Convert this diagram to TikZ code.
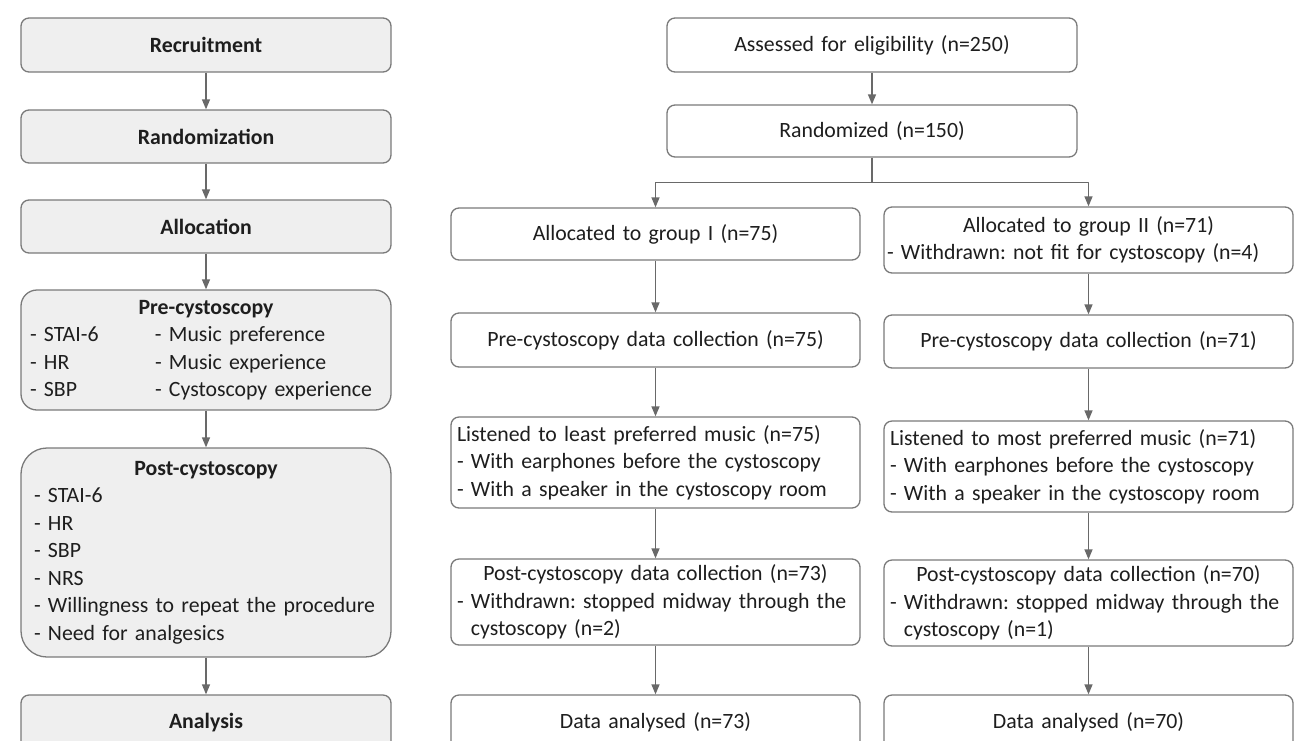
\documentclass[tikz,border=0pt]{standalone}
\usepackage{fontspec}
\setmainfont{Carlito}
\usetikzlibrary{arrows.meta}
\definecolor{boxline}{HTML}{7A7A7A}
\definecolor{arrowline}{HTML}{696969}
\definecolor{stagefill}{HTML}{EFEFEF}
\definecolor{ink}{HTML}{1E1E1E}
\frenchspacing
\begin{document}
\begin{tikzpicture}[x=1pt, y=-1pt, font=\fontsize{21.8}{27.5}\selectfont, line join=round,
		>={Triangle[length=10pt,width=8pt]},
		box/.style={draw=boxline, line width=1.3pt, rounded corners=8pt, text=ink, inner ysep=0pt},
		stage/.style={box, fill=stagefill, inner xsep=9pt, text width=352pt, align=center},
		flow/.style={box, fill=white, inner xsep=6pt, text width=397pt, align=center},
		link/.style={draw=arrowline, line width=1.3pt}]
		\def\lx{206}\def\mx{655.5}\def\rx{1088.5}\def\cx{872}
		\useasboundingbox (0,0) rectangle (1298,740);
		\clip (0,0) rectangle (1298,740);
		% stages of the study
		\node[stage, minimum height=54pt] (rec) at (\lx,45) {\textbf{Recruitment}};
		\node[stage, minimum height=53pt] (rnd) at (\lx,136.5) {\textbf{Randomization}};
		\node[stage, minimum height=53pt] (alc) at (\lx,226.5) {\textbf{Allocation}};
		\node[stage, minimum height=120pt, rounded corners=16pt, align=left] (pre) at (\lx,350)
			{\makebox[\linewidth]{\textbf{Pre-cystoscopy}}\\
			\makebox[125pt][l]{- STAI-6}- Music preference\\
			\makebox[125pt][l]{- HR}- Music experience\\
			\makebox[125pt][l]{- SBP}- Cystoscopy experience};
		\node[stage, minimum height=209pt, rounded corners=26pt, align=left] (post) at (\lx,552.5)
			{\makebox[\linewidth]{\textbf{Post-cystoscopy}}\\
			\hspace*{4pt}- STAI-6\\ \hspace*{4pt}- HR\\ \hspace*{4pt}- SBP\\ \hspace*{4pt}- NRS\\
			\hspace*{4pt}- Willingness to repeat the procedure\\ \hspace*{4pt}- Need for analgesics};
		\node[stage, minimum height=55pt] (ana) at (\lx,722.5) {\textbf{Analysis}};
		% enrolment
		\node[flow, minimum height=54pt, minimum width=410pt] (elig) at (\cx,45) {Assessed for eligibility (n=250)};
		\node[flow, minimum height=52pt, minimum width=410pt] (rand) at (\cx,131) {Randomized (n=150)};
		% group I
		\node[flow, minimum height=52pt] (al1) at (\mx,234) {Allocated to group I (n=75)};
		\node[flow, minimum height=54pt] (pre1) at (\mx,340) {Pre-cystoscopy data collection (n=75)};
		\node[flow, minimum height=91pt, align=left] (lis1) at (\mx,462.5)
			{Listened to least preferred music (n=75)\\
			- With earphones before the cystoscopy\\
			- With a speaker in the cystoscopy room};
		\node[flow, minimum height=86pt, align=left] (post1) at (\mx,602)
			{\makebox[\linewidth]{Post-cystoscopy data collection (n=73)}\\
			- Withdrawn: stopped midway through the\\
			\phantom{-~}cystoscopy (n=2)};
		\node[flow, minimum height=55pt] (dat1) at (\mx,722.5) {Data analysed (n=73)};
		% group II
		\node[flow, minimum height=66pt, align=left, inner xsep=3pt, text width=403pt] (al2) at (\rx,240)
			{\makebox[\linewidth]{Allocated to group II (n=71)}\\
			- Withdrawn: not fit for cystoscopy (n=4)};
		\node[flow, minimum height=53pt] (pre2) at (\rx,341.5) {Pre-cystoscopy data collection (n=71)};
		\node[flow, minimum height=91pt, align=left] (lis2) at (\rx,466.5)
			{Listened to most preferred music (n=71)\\
			- With earphones before the cystoscopy\\
			- With a speaker in the cystoscopy room};
		\node[flow, minimum height=86pt, align=left] (post2) at (\rx,603)
			{\makebox[\linewidth]{Post-cystoscopy data collection (n=70)}\\
			- Withdrawn: stopped midway through the\\
			\phantom{-~}cystoscopy (n=1)};
		\node[flow, minimum height=55pt] (dat2) at (\rx,722.5) {Data analysed (n=70)};
		% connectors
		\foreach \a/\b in {rec/rnd,rnd/alc,alc/pre,pre/post,post/ana,elig/rand,
			al1/pre1,pre1/lis1,lis1/post1,post1/dat1,al2/pre2,pre2/lis2,lis2/post2,post2/dat2}
			\draw[link,->] (\a) -- (\b);
		\path (rand.south) ++(0,25) coordinate (split);
		\draw[link] (rand.south) -- (split);
		\draw[link,->] (split) -| (al1.north);
		\draw[link,->] (split) -| (al2.north);
\end{tikzpicture}
\end{document}
